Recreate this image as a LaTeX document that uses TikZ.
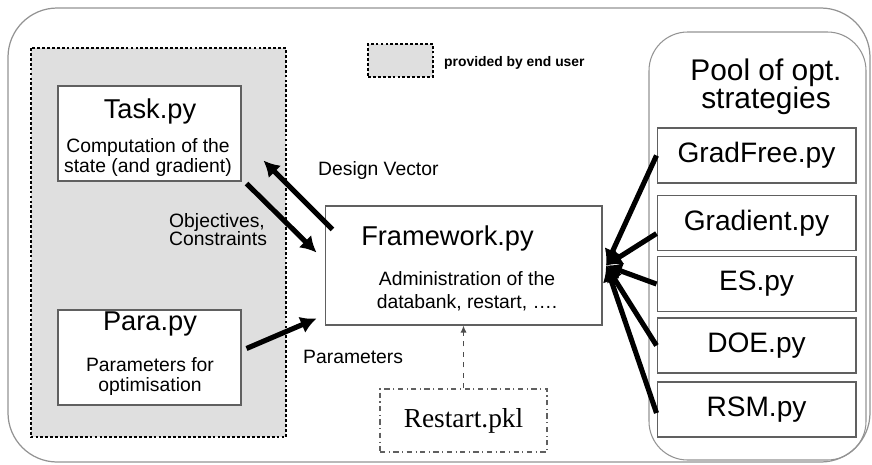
\documentclass[tikz,border=0pt]{standalone}
\usepackage{fontspec}
\setmainfont{Liberation Sans}
\newfontfamily\pklfont{Liberation Serif}
\usetikzlibrary{arrows.meta}

\newcommand{\sizetitle}{\fontsize{15.5}{18}\selectfont}
\newcommand{\sizebody}{\fontsize{11}{11.9}\selectfont}
\newcommand{\sizestrat}{\fontsize{16}{18}\selectfont}
\newcommand{\sizepool}{\fontsize{17}{16}\selectfont}
\newcommand{\sizelegend}{\fontsize{7.9}{9}\selectfont}

\tikzset{
  filebox/.style={draw=gray!75!black, fill=white, line width=0.6pt, inner sep=0pt},
  userbox/.style={draw=black, fill=gray!25, line width=1.6pt, dash pattern=on 1.6pt off 1.2pt},
  bigarrow/.style={line width=2.9pt, -{Latex[length=9pt,width=10pt]}},
  stratbox/.style={filebox, minimum width=3.98cm, minimum height=1.1cm, font=\sizestrat}
}

\begin{document}
\begin{tikzpicture}[x=0.02cm, y=-0.02cm]
  \useasboundingbox (0,0) rectangle (872,464);

  % frame, user area and pool
  \draw[gray!85, line width=0.7pt, rounded corners=28pt] (8,8) rectangle (870,462);
  \draw[userbox] (31,48) rectangle (286,437);
  \draw[gray!85, line width=0.6pt, rounded corners=22pt] (649,32) rectangle (866,460);

  % legend
  \node[userbox, minimum width=1.3cm, minimum height=0.66cm] (legend) at (400.5,60.5) {};
  \node[anchor=base west, font=\sizelegend\bfseries] (legendtxt) at (438,66) {provided by end user};

  % files of the end user
  \node[filebox, minimum width=3.66cm, minimum height=1.9cm] (task) at (149.5,133.5) {};
  \node[anchor=base, font=\sizetitle] (tasktitle) at (150,118) {Task.py};
  \node[font=\sizebody, align=center] (tasktxt) at (148,157.5) {Computation of the\\state (and gradient)};

  \node[filebox, minimum width=3.66cm, minimum height=1.9cm] (para) at (149.5,357.5) {};
  \node[anchor=base, font=\sizetitle] (paratitle) at (150,330) {Para.py};
  \node[font=\sizebody, align=center] (paratxt) at (150,376.5) {Parameters for\\optimisation};

  % framework and restart file
  \node[filebox, minimum width=5.54cm, minimum height=2.38cm] (fw) at (463.5,265.5) {};
  \node[anchor=base, font=\sizetitle] (fwtitle) at (447.5,245) {Framework.py};
  \node[font=\fontsize{11}{13}\selectfont, align=center] (fwtxt) at (467,291.5) {Administration of the\\databank, restart, ….};

  \node[draw=gray!75!black, line width=0.6pt, dash dot, minimum width=3.34cm, minimum height=1.26cm,
        font=\pklfont\fontsize{15.6}{18}\selectfont] (pkl) at (463.5,420.5) {Restart.pkl};

  % pool of strategies
  \node[font=\sizepool, align=center] (pooltxt) at (766,87) {Pool of opt.\\strategies};
  \node[stratbox] (gradfree) at (756.5,155.5) {GradFree.py};
  \node[stratbox] (gradient) at (756.5,223) {Gradient.py};
  \node[stratbox] (es) at (756.5,284) {ES.py};
  \node[stratbox] (doe) at (756.5,345.5) {DOE.py};
  \node[stratbox] (rsm) at (756.5,409.5) {RSM.py};

  % data flow
  \draw[bigarrow] ([shift={(8,24)}]fw.north west) -- ([shift={(22,-21)}]task.south east);
  \draw[bigarrow] ([shift={(5,2)}]task.south east) -- ([shift={(-8,47)}]fw.north west);
  \draw[bigarrow] ([shift={(5,-9)}]para.east) -- ([shift={(-8,-7)}]fw.south west);
  \draw[gray!60!black, line width=0.7pt, dashed, -{Latex[length=4pt,width=3.5pt]}] (pkl.north) -- (fw.south);

  \draw[bigarrow] (gradfree.west) -- ([xshift=2]fw.east);
  \draw[bigarrow] ([yshift=-6]gradient.west) -- ([xshift=2]fw.east);
  \draw[bigarrow] (es.west) -- ([xshift=2]fw.east);
  \draw[bigarrow] (doe.west) -- ([xshift=2]fw.east);
  \draw[bigarrow] ([yshift=-2]rsm.west) -- ([xshift=2]fw.east);

  % labels
  \node[anchor=base west, font=\sizebody] (dvlabel) at (312,175) {Design Vector};
  \node[anchor=base west, font=\sizebody] (objlabel) at (163,227) {Objectives,};
  \node[anchor=base west, font=\sizebody] (conlabel) at (163,245) {Constraints};
  \node[anchor=base west, font=\sizebody] (parlabel) at (297,363) {Parameters};

\end{tikzpicture}
\end{document}
